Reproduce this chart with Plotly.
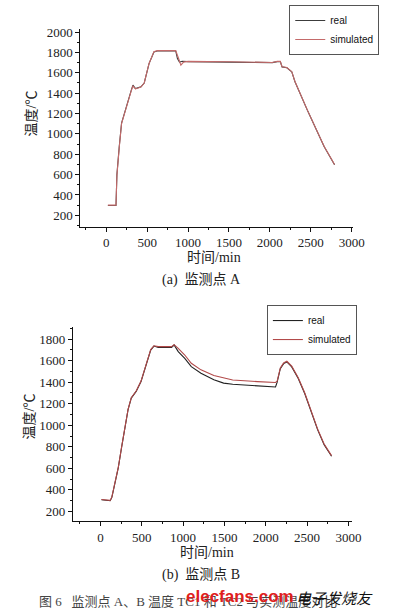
import plotly.graph_objects as go

W, H = 399, 615

# ---- Data: monitoring point A ----
a_real_x = [20, 119, 130, 145, 159, 187, 226, 266, 306, 326, 357, 424, 464, 523, 583, 623, 849,
            870, 895, 930, 1000, 1500, 2030, 2090, 2128, 2149, 2208, 2268, 2307, 2466, 2663, 2791]
a_real_y = [297, 297, 600, 800, 877, 1105, 1219, 1316, 1430, 1479, 1446, 1463, 1500, 1690, 1805, 1815, 1815,
            1740, 1705, 1714, 1710, 1705, 1700, 1710, 1710, 1658, 1650, 1609, 1512, 1219, 877, 697]
a_sim_x = [20, 119, 130, 145, 159, 187, 226, 266, 306, 326, 357, 424, 464, 523, 583, 623, 849,
           880, 912, 945, 1000, 1500, 2030, 2090, 2128, 2149, 2208, 2268, 2307, 2466, 2663, 2791]
a_sim_y = [300, 300, 590, 790, 870, 1100, 1215, 1312, 1425, 1470, 1442, 1460, 1500, 1692, 1808, 1818, 1818,
           1750, 1675, 1705, 1712, 1708, 1702, 1712, 1712, 1660, 1652, 1611, 1514, 1221, 879, 699]

# ---- Data: monitoring point B ----
b_real_x = [12, 90, 118, 138, 176, 216, 255, 294, 334, 373, 432, 491, 549, 608, 647, 700, 860, 891,
            941, 1020, 1099, 1216, 1372, 1490, 1600, 1900, 2118, 2138, 2176, 2216, 2255, 2314, 2393,
            2471, 2549, 2628, 2706, 2796]
b_real_y = [308, 305, 299, 330, 453, 606, 791, 975, 1145, 1252, 1314, 1406, 1560, 1698, 1735, 1722, 1722, 1745,
            1683, 1621, 1544, 1483, 1422, 1391, 1380, 1366, 1355, 1400, 1525, 1572, 1588, 1541, 1434,
            1295, 1126, 957, 820, 712]
b_sim_x = [12, 90, 118, 138, 176, 216, 255, 294, 334, 373, 432, 491, 549, 608, 647, 700, 860, 891,
           941, 1020, 1099, 1216, 1372, 1490, 1600, 1900, 2118, 2138, 2176, 2216, 2255, 2314, 2393,
           2471, 2549, 2628, 2706, 2796]
b_sim_y = [310, 307, 302, 335, 458, 610, 795, 978, 1148, 1256, 1318, 1410, 1563, 1702, 1738, 1730, 1730, 1748,
           1714, 1652, 1575, 1514, 1461, 1437, 1420, 1405, 1397, 1410, 1532, 1578, 1594, 1548, 1441,
           1302, 1133, 964, 826, 718]

x_ticks = [0, 500, 1000, 1500, 2000, 2500, 3000]
a_y_ticks = [200, 400, 600, 800, 1000, 1200, 1400, 1600, 1800, 2000]
b_y_ticks = [200, 400, 600, 800, 1000, 1200, 1400, 1600, 1800]

REAL_C = "#3c3c3c"
SIM_C = "#c46a6a"

fig = go.Figure()
fig.add_trace(go.Scatter(x=a_real_x, y=a_real_y, mode="lines", name="real",
                         line=dict(color=REAL_C, width=1.1), xaxis="x", yaxis="y", legend="legend"))
fig.add_trace(go.Scatter(x=a_sim_x, y=a_sim_y, mode="lines", name="simulated",
                         line=dict(color=SIM_C, width=1.1), xaxis="x", yaxis="y", legend="legend"))
fig.add_trace(go.Scatter(x=b_real_x, y=b_real_y, mode="lines", name="real",
                         line=dict(color="#222222", width=1.1), xaxis="x2", yaxis="y2", legend="legend2"))
fig.add_trace(go.Scatter(x=b_sim_x, y=b_sim_y, mode="lines", name="simulated",
                         line=dict(color="#b24a4a", width=1.1), xaxis="x2", yaxis="y2", legend="legend2"))

tickfont = dict(family="Liberation Serif, Times New Roman, serif", size=13, color="#222")


def axis(rng, dom, tickvals, dtick_minor, anchor):
    return dict(range=rng, domain=dom, tickvals=tickvals, ticktext=[str(v) for v in tickvals],
                showline=True, linecolor="#111", linewidth=1, ticks="outside", ticklen=4,
                tickcolor="#111", tickwidth=1, showgrid=False, zeroline=False,
                tickfont=tickfont, anchor=anchor,
                minor=dict(ticks="outside", ticklen=2, tickcolor="#111", dtick=dtick_minor,
                           showgrid=False))


legfont = dict(family="Liberation Sans, Arial, sans-serif", size=10, color="#111")

fig.update_layout(
    width=W, height=H,
    margin=dict(l=0, r=0, t=0, b=0),
    paper_bgcolor="white", plot_bgcolor="white",
    xaxis=axis([-316, 3020], [82.7 / W, 363.3 / W], x_ticks, 250, "y"),
    yaxis=axis([87, 2032], [1 - 224.3 / H, 1 - 25 / H], a_y_ticks, 100, "x"),
    xaxis2=axis([-333, 3040], [75 / W, 361.7 / W], x_ticks, 250, "y2"),
    yaxis2=axis([108, 1913], [1 - 520.7 / H, 1 - 325 / H], b_y_ticks, 100, "x2"),
    legend=dict(x=390 / W, y=1 - 1 / H, xanchor="right", yanchor="top",
                bordercolor="#555", borderwidth=1, bgcolor="white",
                font=legfont, itemwidth=30, tracegroupgap=0),
    legend2=dict(x=367 / W, y=1 - 303 / H, xanchor="right", yanchor="top",
                 bordercolor="#555", borderwidth=1, bgcolor="white",
                 font=legfont, itemwidth=30, tracegroupgap=0),
)

cjk = "Liberation Serif, Noto Sans CJK SC, serif"


def txt(x, y, s, size=14, color="#222", angle=0, family=cjk):
    fig.add_annotation(x=x / W, y=1 - y / H, xref="paper", yref="paper", text=s, showarrow=False,
                       textangle=angle, font=dict(family=family, size=size, color=color),
                       xanchor="center", yanchor="middle")


txt(32, 110, "温度/℃", 14, angle=-90)
txt(220, 255, "时间/min", 14)
txt(207, 278, "(a)  监测点 A", 14)
txt(30, 415, "温度/℃", 14, angle=-90)
txt(213, 552, "时间/min", 14)
txt(207, 575, "(b)  监测点 B", 14)
txt(193, 601, "图 6   监测点 A、B 温度 TC1 和 TC2 与实测温度对比", 13, color="#444")
txt(247, 596, "<b>elecfans.com</b>", 17, color="#e0201c", family="Liberation Sans, Arial, sans-serif")
txt(344, 597, "<i>电子发烧友</i>", 15, color="#111", family="Noto Sans CJK SC")

fig.write_html("out.html", config={"displayModeBar": False},
               post_script="document.body.style.margin='0';document.body.style.padding='0';")
